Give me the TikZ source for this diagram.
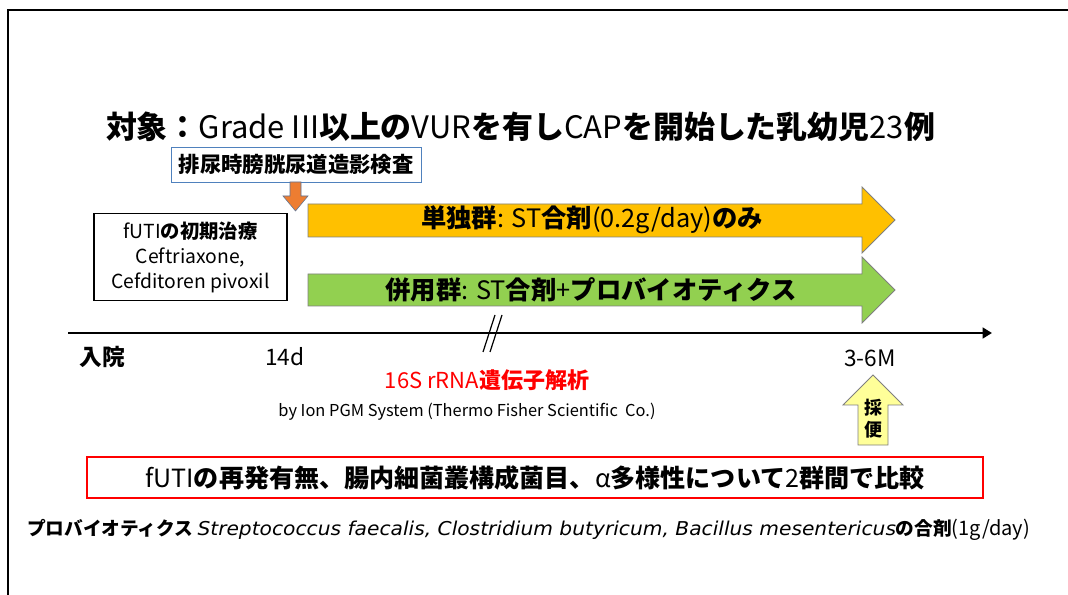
\documentclass[tikz,border=0pt]{standalone}
\usepackage{fontspec}
\usepackage{graphicx}
\setmainfont{Noto Sans CJK JP}
\newfontfamily\dvsi{DejaVu Sans Oblique}
\usetikzlibrary{arrows.meta}
\newcommand\bj[1]{{\bfseries #1}}
\newcommand\fsz[1]{\fontsize{#1}{1.25\dimexpr #1\relax}\selectfont}
\definecolor{arrorange}{HTML}{FFC000}
\definecolor{arrgreen}{HTML}{92D050}
\definecolor{downorange}{HTML}{ED7D31}
\definecolor{boxblue}{HTML}{4F81BD}
\definecolor{lightyel}{HTML}{FFFF99}
\definecolor{edgegray}{HTML}{7F7F7F}
\tikzset{
  bigarrow/.style={draw=edgegray, line width=0.6pt},
  txt/.style={inner sep=0pt, outer sep=0pt, align=center},
  framebox/.style={draw, line width=0.8pt, inner sep=0pt, align=center},
}
\begin{document}
\begin{tikzpicture}[x=0.75pt,y=-0.75pt]
\useasboundingbox (0,0) rectangle (1068,595);
% frame
\draw[line width=1.6pt] (8,595) -- (8,10) -- (1068,10);

% title
\node[txt, anchor=west] (title) at (106,127) {\fsz{23.2pt}\bj{対象：}Grade III\bj{以上の}VUR\bj{を有し}CAP\bj{を開始した乳幼児}23\bj{例}};

% VCUG box
\node[framebox, draw=boxblue, line width=0.7pt, minimum width=250*0.75pt, minimum height=35*0.75pt] (vcug) at (296,164.5) {\fsz{16pt}\bj{排尿時膀胱尿道造影検査}};

% small orange down arrow
\draw[fill=downorange, draw={rgb,255:red,90;green,115;blue,150}, line width=0.4pt]
  (290,182) -- (301,182) -- (301,196) -- (308,196) -- (295.5,211) -- (283,196) -- (290,196) -- cycle;

% initial treatment box
\node[framebox, line width=0.9pt, minimum width=193*0.75pt, minimum height=87*0.75pt,
      font={\fontsize{14.5pt}{18.75pt}\selectfont}] (init) at (190.5,257)
  {fUTI\bj{の初期治療}\\Ceftriaxone,\\Cefditoren pivoxil};

% group arrows
\draw[bigarrow, fill=arrorange] (308,204) -- (862,204) -- (862,187) -- (895,220) -- (862,253) -- (862,237) -- (308,237) -- cycle;
\node[txt] (single) at (592,220) {\fsz{19pt}\bj{単独群}: ST\bj{合剤}(0.2g/day)\bj{のみ}};
\draw[bigarrow, fill=arrgreen] (308,274) -- (862,274) -- (862,257) -- (895,290) -- (862,323) -- (862,306) -- (308,306) -- cycle;
\node[txt] (combo) at (591,290) {\fsz{19pt}\bj{併用群}: ST\bj{合剤}+\bj{プロバイオティクス}};

% timeline
\coordinate (tl0) at (68,333);
\coordinate (tl1) at (992,333);
\draw[line width=2.2pt, -{Triangle[length=7pt,width=8pt]}] (tl0) -- (tl1);
\draw[line width=0.9pt] (483,352) -- (495,315);
\draw[line width=0.9pt] (490,352) -- (502,315);

\node[txt] (adm) at (102,357) {\fsz{17pt}\bj{入院}};
\node[txt] (d14) at (285,357) {\fsz{17pt}14d};
\node[txt] (m36) at (870,358) {\fsz{17pt}3-6M};

% analysis
\node[txt, text=red] (rna) at (487,380) {\fsz{16.5pt}16S rRNA\bj{遺伝子解析}};
\node[txt] (ion) at (467,412) {\fsz{12.3pt}by Ion PGM System (Thermo Fisher Scientific\ \ Co.)};

% stool up arrow
\draw[fill=lightyel, draw=edgegray, line width=0.6pt]
  (873,375) -- (903,405) -- (888,405) -- (888,445) -- (858,445) -- (858,405) -- (843,405) -- cycle;
\node[txt, font={\fontsize{13.5pt}{16.5pt}\selectfont}] (stool) at (873,419) {\bj{採}\\\bj{便}};

% comparison box
\node[framebox, draw=red, line width=1.1pt, minimum width=896*0.75pt, minimum height=41*0.75pt] (cmp) at (535,477.5)
  {\fsz{18.8pt}fUTI\bj{の再発有無、腸内細菌叢構成菌目、}α\bj{多様性について}2\bj{群間で比較}};

% footnote
\node[txt, anchor=west] (note) at (27,530) {\fsz{14pt}\bj{プロバイオティクス} \scalebox{1.06}[1]{\dvsi\fsz{14.3pt}Streptococcus faecalis, Clostridium butyricum, Bacillus mesentericus}\bj{の合剤}{\fsz{15pt}(1g/day)}};
\end{tikzpicture}
\end{document}
